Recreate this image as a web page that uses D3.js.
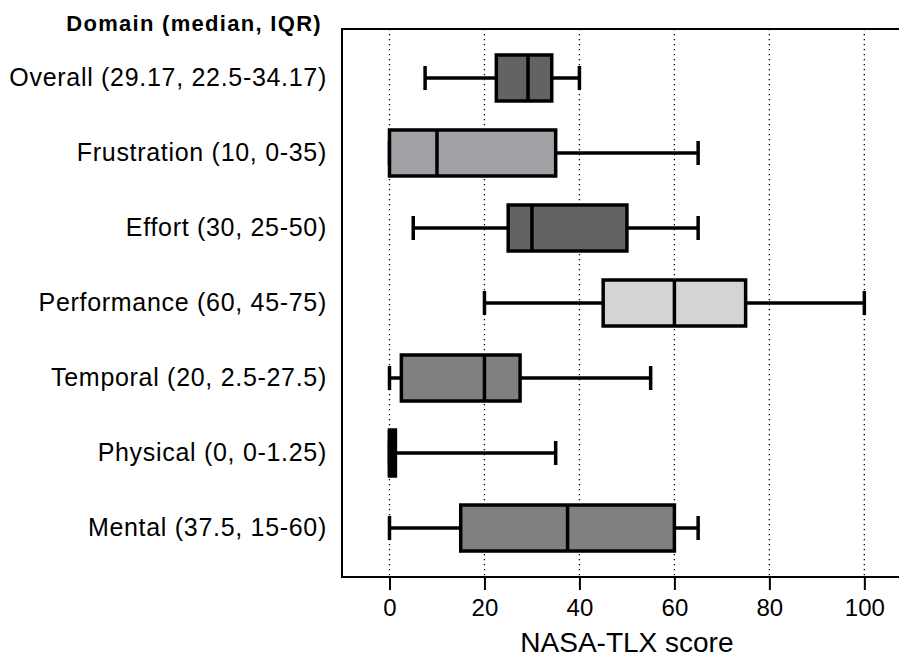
<!DOCTYPE html>
<html>
<head>
<meta charset="utf-8">
<script src="https://cdn.jsdelivr.net/npm/d3@7"></script>
<style>
  body { margin: 0; background: #fff; }
  text { font-family: "Liberation Sans", Arial, sans-serif; fill: #000; }
</style>
</head>
<body>
<svg id="box_chart"></svg>
<script>
(function() {

// data (top row first)
var domains   = ['Overall', 'Frustration', 'Effort', 'Performance', 'Temporal', 'Physical', 'Mental'];
var labels    = ['Overall (29.17, 22.5-34.17)', 'Frustration (10, 0-35)', 'Effort (30, 25-50)',
                 'Performance (60, 45-75)', 'Temporal (20, 2.5-27.5)', 'Physical (0, 0-1.25)', 'Mental (37.5, 15-60)'];
var mins      = [7.5, 0, 5, 20, 0, 0, 0];
var q1s       = [22.5, 0, 25, 45, 2.5, 0, 15];
var medians   = [29.17, 10, 30, 60, 20, 0, 37.5];
var q3s       = [34.17, 35, 50, 75, 27.5, 1.25, 60];
var maxs      = [40, 65, 65, 100, 55, 35, 65];
var fills     = ['#636363', '#a1a0a5', '#636363', '#d4d4d4', '#808080', '#000000', '#808080'];
var tickVals  = [0, 20, 40, 60, 80, 100];

var full_width = 899, full_height = 664;

var data = domains.map(function(d, i) {
  return { domain: d, label: labels[i], min: mins[i], q1: q1s[i], median: medians[i],
           q3: q3s[i], max: maxs[i], fill: fills[i] };
});

var left = 342, right = 899, top = 29, bottom = 577;

var svg = d3.select('#box_chart')
    .attr('width', full_width)
    .attr('height', full_height);

var x = d3.scaleLinear().domain([-10, 107.3]).range([left, right]);
var y = d3.scalePoint().domain(domains).range([top, bottom]).padding(0.653);

var boxH = 46, capH = 24, lw = 3.5;

// dotted grid
svg.append('g').selectAll('line')
    .data(tickVals)
    .enter().append('line')
    .attr('x1', function(d) { return x(d); })
    .attr('x2', function(d) { return x(d); })
    .attr('y1', top)
    .attr('y2', bottom)
    .attr('stroke', '#000')
    .attr('stroke-width', 1.3)
    .attr('stroke-dasharray', '1.3,3.7');

// x axis
var xAxis = svg.append('g')
    .attr('transform', 'translate(0,' + bottom + ')')
    .call(d3.axisBottom(x).tickValues(tickVals).tickSize(13).tickPadding(9).tickFormat(d3.format('d')));
xAxis.select('.domain').remove();
xAxis.selectAll('.tick line').attr('stroke', '#000').attr('stroke-width', 2);
xAxis.selectAll('.tick text')
    .attr('font-size', 24)
    .attr('font-family', '"Liberation Sans", Arial, sans-serif')
    .attr('fill', '#000');

// frame (left, top, bottom)
svg.append('path')
    .attr('d', 'M' + right + ',' + top + 'H' + left + 'V' + bottom + 'H' + right)
    .attr('fill', 'none')
    .attr('stroke', '#000')
    .attr('stroke-width', 2);

// boxes
var rows = svg.append('g').selectAll('g')
    .data(data)
    .enter().append('g')
    .attr('transform', function(d) { return 'translate(0,' + y(d.domain) + ')'; });

rows.append('line')
    .attr('x1', function(d) { return x(d.min); })
    .attr('x2', function(d) { return x(d.max); })
    .attr('stroke', '#000')
    .attr('stroke-width', lw);

rows.selectAll('.cap')
    .data(function(d) { return [d.min, d.max]; })
    .enter().append('line')
    .attr('class', 'cap')
    .attr('x1', function(v) { return x(v); })
    .attr('x2', function(v) { return x(v); })
    .attr('y1', -capH / 2)
    .attr('y2', capH / 2)
    .attr('stroke', '#000')
    .attr('stroke-width', lw);

rows.append('rect')
    .attr('x', function(d) { return x(d.q1); })
    .attr('width', function(d) { return x(d.q3) - x(d.q1); })
    .attr('y', -boxH / 2)
    .attr('height', boxH)
    .attr('fill', function(d) { return d.fill; })
    .attr('stroke', '#000')
    .attr('stroke-width', lw);

rows.append('line')
    .attr('x1', function(d) { return x(d.median); })
    .attr('x2', function(d) { return x(d.median); })
    .attr('y1', -boxH / 2)
    .attr('y2', boxH / 2)
    .attr('stroke', '#000')
    .attr('stroke-width', lw);

// row labels
svg.append('g').selectAll('text')
    .data(data)
    .enter().append('text')
    .attr('x', 327)
    .attr('y', function(d) { return y(d.domain); })
    .attr('dy', '0.33em')
    .attr('text-anchor', 'end')
    .attr('font-size', 25)
    .attr('letter-spacing', 0.7)
    .text(function(d) { return d.label; });

svg.append('text')
    .attr('x', 322)
    .attr('y', 31)
    .attr('text-anchor', 'end')
    .attr('font-size', 22)
    .attr('font-weight', 'bold')
    .attr('letter-spacing', 1.3)
    .text('Domain (median, IQR)');

svg.append('text')
    .attr('x', x(50))
    .attr('y', 652)
    .attr('text-anchor', 'middle')
    .attr('font-size', 28)
    .text('NASA-TLX score');

})();
</script>
</body>
</html>
